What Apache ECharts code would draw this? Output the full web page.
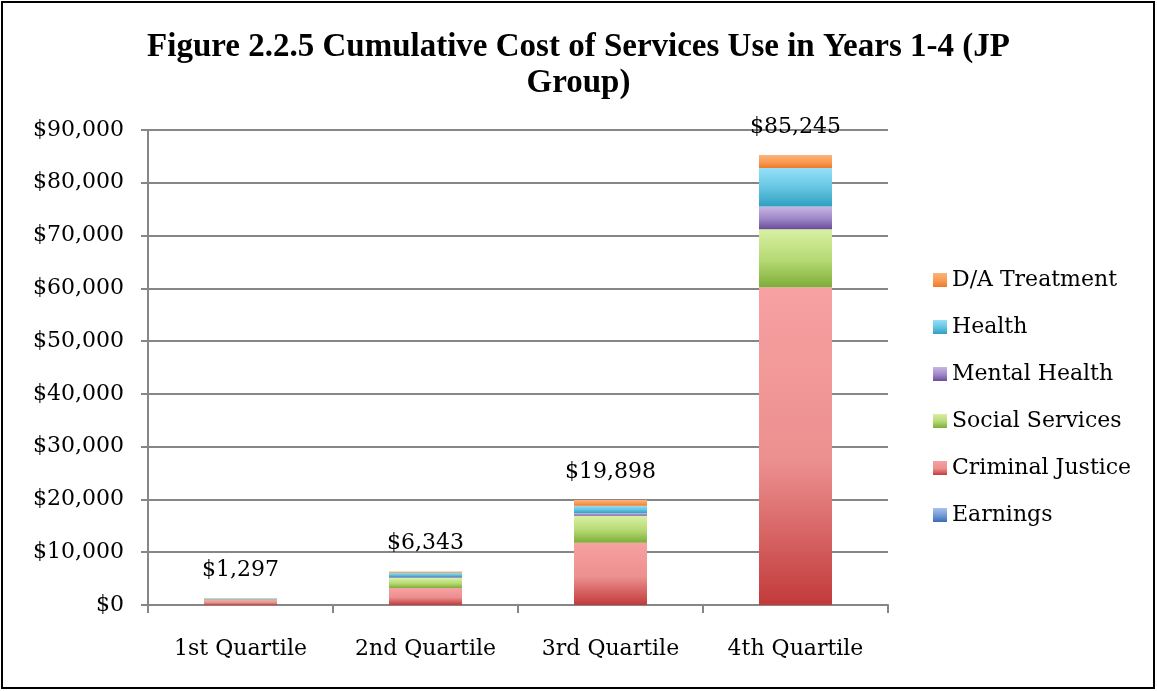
<!DOCTYPE html>
<html>
<head>
<meta charset="utf-8">
<title>Figure 2.2.5</title>
<script src="https://cdn.jsdelivr.net/npm/echarts@6/dist/echarts.min.js"></script>
<style>
    html, body { margin: 0; padding: 0; background: #fff; }
    #chart { width: 1157px; height: 691px; }
</style>
</head>
<body>
<div id="chart"></div>
<script>
// 数据
var categories = ['1st Quartile', '2nd Quartile', '3rd Quartile', '4th Quartile'];
var earnings = [0, 0, 0, 0];
var criminalJustice = [900, 3200, 11800, 60200];
var socialServices = [150, 1900, 5100, 11000];
var mentalHealth = [50, 200, 500, 4300];
var health = [150, 800, 1400, 7300];
var daTreatment = [47, 243, 1098, 2445];
var legendOrder = ['D/A Treatment', 'Health', 'Mental Health', 'Social Services', 'Criminal Justice', 'Earnings'];

var serifFont = 'DejaVu Serif';

function grad(top, mid, bottom) {
    return new echarts.graphic.LinearGradient(0, 0, 0, 1, [
        { offset: 0, color: top },
        { offset: 0.55, color: mid },
        { offset: 1, color: bottom }
    ]);
}

function money(v) {
    return '$' + Number(v).toLocaleString('en-US');
}

var allSeries = [earnings, criminalJustice, socialServices, mentalHealth, health, daTreatment];

function totalAt(i) {
    var s = 0;
    allSeries.forEach(function(arr) { s += arr[i]; });
    return s;
}

function barSeries(name, data, color) {
    return {
        name: name,
        type: 'bar',
        stack: 'total',
        barWidth: 73,
        data: data,
        itemStyle: { color: color }
    };
}

var chart = echarts.init(document.getElementById('chart'));

var series = [
    barSeries('Earnings', earnings, grad('#a7c3ee', '#6f98d6', '#3a6cb5')),
    barSeries('Criminal Justice', criminalJustice, grad('#f7a1a2', '#ec8f8f', '#c23a3a')),
    barSeries('Social Services', socialServices, grad('#d9f0a3', '#b4d872', '#7dad38')),
    barSeries('Mental Health', mentalHealth, grad('#c8b6e4', '#9e86c6', '#6a4c9a')),
    barSeries('Health', health, grad('#95e0f7', '#62c3e0', '#2f9fc0')),
    barSeries('D/A Treatment', daTreatment, grad('#fbb47a', '#f99a52', '#ec7a2a'))
];

// 总计标签放在最上面的系列
series[5].label = {
    show: true,
    position: 'top',
    distance: 17,
    color: '#000',
    fontFamily: serifFont,
    fontSize: 22,
    formatter: function(p) {
        return money(totalAt(p.dataIndex));
    }
};

var option = {
    animation: false,
    title: {
        text: 'Figure 2.2.5 Cumulative Cost of Services Use in Years 1-4 (JP\nGroup)',
        left: 'center',
        top: 24,
        textStyle: {
            fontFamily: 'Liberation Serif',
            fontWeight: 'bold',
            fontSize: 33,
            lineHeight: 36,
            color: '#000'
        }
    },
    legend: {
        orient: 'vertical',
        left: 928,
        top: 264,
        itemWidth: 14,
        itemHeight: 14,
        itemGap: 25,
        icon: 'rect',
        data: legendOrder,
        textStyle: {
            fontFamily: serifFont,
            fontSize: 22,
            color: '#000',
            padding: [0, 0, 0, 0]
        }
    },
    grid: {
        left: 148,
        right: 269,
        top: 130,
        bottom: 86
    },
    xAxis: {
        type: 'category',
        data: categories,
        axisLine: { lineStyle: { color: '#868686', width: 2 } },
        axisTick: { show: true, length: 8, lineStyle: { color: '#868686', width: 2 } },
        axisLabel: {
            margin: 33,
            color: '#000',
            fontFamily: serifFont,
            fontSize: 22
        }
    },
    yAxis: {
        type: 'value',
        min: 0,
        max: 90000,
        interval: 10000,
        axisLine: { show: true, lineStyle: { color: '#868686', width: 2 } },
        axisTick: { show: true, length: 7, lineStyle: { color: '#868686', width: 2 } },
        splitLine: { lineStyle: { color: '#868686', width: 2 } },
        axisLabel: {
            margin: 24,
            color: '#000',
            fontFamily: serifFont,
            fontSize: 22,
            formatter: money
        }
    },
    graphic: [{
        type: 'rect',
        shape: { x: 2, y: 2, width: 1152, height: 686 },
        style: { fill: 'none', stroke: '#000', lineWidth: 2 },
        silent: true
    }],
    series: series
};

chart.setOption(option);
</script>
</body>
</html>
